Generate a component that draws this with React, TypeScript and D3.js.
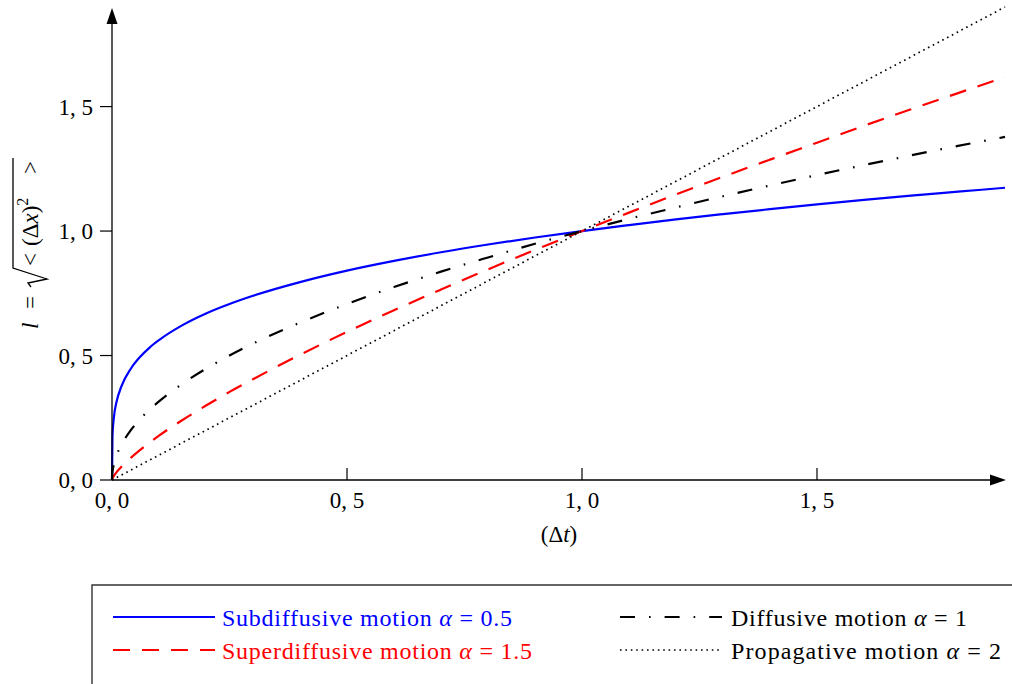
import React from "react";
import * as d3 from "d3";

const tValues = [0, 0.001, 0.004, 0.01, 0.02, 0.04, 0.06, 0.08, 0.1, 0.15, 0.2, 0.25, 0.3, 0.4, 0.5, 0.6, 0.7, 0.8, 0.9, 1.0, 1.1, 1.2, 1.3, 1.4, 1.5, 1.6, 1.7, 1.8, 1.9];
const subdiffusive = [0, 0.178, 0.251, 0.316, 0.376, 0.447, 0.495, 0.532, 0.562, 0.622, 0.669, 0.707, 0.74, 0.795, 0.841, 0.88, 0.915, 0.946, 0.974, 1.0, 1.024, 1.047, 1.068, 1.088, 1.107, 1.125, 1.142, 1.158, 1.174];
const diffusive = [0, 0.032, 0.063, 0.1, 0.141, 0.2, 0.245, 0.283, 0.316, 0.387, 0.447, 0.5, 0.548, 0.632, 0.707, 0.775, 0.837, 0.894, 0.949, 1.0, 1.049, 1.095, 1.14, 1.183, 1.225, 1.265, 1.304, 1.342, 1.378];
const superdiffusive = [0, 0.006, 0.016, 0.032, 0.053, 0.089, 0.121, 0.15, 0.178, 0.241, 0.299, 0.354, 0.405, 0.503, 0.595, 0.682, 0.765, 0.846, 0.924, 1.0, 1.074, 1.147, 1.218, 1.287, 1.355, 1.423, 1.489, 1.554, 1.618];
const propagative = [0, 0.001, 0.004, 0.01, 0.02, 0.04, 0.06, 0.08, 0.1, 0.15, 0.2, 0.25, 0.3, 0.4, 0.5, 0.6, 0.7, 0.8, 0.9, 1.0, 1.1, 1.2, 1.3, 1.4, 1.5, 1.6, 1.7, 1.8, 1.9];

const xTicks = [0, 0.5, 1.0, 1.5];
const yTicks = [0, 0.5, 1.0, 1.5];
const xTickLabels = ["0, 0", "0, 5", "1, 0", "1, 5"];
const yTickLabels = ["0, 0", "0, 5", "1, 0", "1, 5"];

const seriesNames = ["Subdiffusive motion", "Superdiffusive motion", "Diffusive motion", "Propagative motion"];
const seriesAlpha = ["0.5", "1.5", "1", "2"];

const FONT = "'Liberation Serif', 'Times New Roman', serif";

export default function App() {
  const W = 1012;
  const H = 684;
  const x = d3.scaleLinear().domain([0, 1.9]).range([112, 1005]);
  const y = d3.scaleLinear().domain([0, 1.9]).range([480, 7]);

  const series = [
    { name: seriesNames[0], alpha: seriesAlpha[0], values: subdiffusive, color: "#0000ff", dash: "none", width: 2.2, col: 0, row: 0, textWidth: 290 },
    { name: seriesNames[1], alpha: seriesAlpha[1], values: superdiffusive, color: "#ff0000", dash: "17,12", width: 2.2, col: 0, row: 1, textWidth: 310 },
    { name: seriesNames[2], alpha: seriesAlpha[2], values: diffusive, color: "#000000", dash: "15,14,1.6,14", width: 2.2, col: 1, row: 0, textWidth: 236 },
    { name: seriesNames[3], alpha: seriesAlpha[3], values: propagative, color: "#000000", dash: "1.6,3.8", width: 1.7, col: 1, row: 1, textWidth: 270 },
  ];

  const line = (vals: number[]) =>
    d3
      .line<number>()
      .x((_, i) => x(tValues[i]))
      .y((d) => y(d))
      .curve(d3.curveMonotoneX)(vals) || "";

  const x0 = x(0);
  const y0 = y(0);
  const xEnd = 1006;
  const yTop = 8;

  const legendCols = [
    { lx: 113, tx: 222 },
    { lx: 620, tx: 731 },
  ];
  const legendRows = [617, 650];

  return (
    <svg
      width={W}
      height={H}
      style={{ position: "absolute", left: 0, top: 0, background: "#fff", fontFamily: FONT }}
    >
      <rect x={0} y={0} width={W} height={H} fill="#fff" />

      {series.map((s, i) => (
        <path
          key={i}
          d={line(s.values)}
          fill="none"
          stroke={s.color}
          strokeWidth={s.width}
          strokeDasharray={s.dash}
          strokeLinecap="butt"
        />
      ))}

      <line x1={x0} y1={y0} x2={xEnd - 14} y2={y0} stroke="#000" strokeWidth={1.3} />
      <path d={`M${xEnd},${y0} L${xEnd - 16},${y0 - 5.5} L${xEnd - 16},${y0 + 5.5} Z`} fill="#000" />
      <line x1={x0} y1={y0} x2={x0} y2={yTop + 14} stroke="#000" strokeWidth={1.3} />
      <path d={`M${x0},${yTop} L${x0 - 5.5},${yTop + 16} L${x0 + 5.5},${yTop + 16} Z`} fill="#000" />

      {xTicks.map((t, i) => (
        <g key={i}>
          <line x1={x(t)} x2={x(t)} y1={y0} y2={y0 - 12} stroke="#000" strokeWidth={1.2} />
          <text x={x(t)} y={508} textAnchor="middle" fontSize={23} fill="#000">
            {xTickLabels[i]}
          </text>
        </g>
      ))}

      {yTicks.map((t, i) => (
        <g key={i}>
          <line x1={x0 - 12} x2={x0} y1={y(t)} y2={y(t)} stroke="#000" strokeWidth={1.2} />
          <text x={93} y={y(t) + 8} textAnchor="end" fontSize={23} fill="#000">
            {yTickLabels[i]}
          </text>
        </g>
      ))}

      <text x={559} y={542} textAnchor="middle" fontSize={23} fill="#000">
        (Δ<tspan fontStyle="italic">t</tspan>)
      </text>

      <g transform="translate(38,330) rotate(-90)" fill="#000">
        <text x={1} y={0} fontSize={23} fontStyle="italic">l</text>
        <text x={21} y={0} fontSize={23}>=</text>
        <path d="M43,-7 L47,-10 L51,9 L62,-25 L172,-25" fill="none" stroke="#000" strokeWidth={1.3} strokeLinejoin="miter" />
        <text x={64} y={0} fontSize={23}>&lt;</text>
        <text x={84} y={0} fontSize={23}>
          (Δ<tspan fontStyle="italic">x</tspan>)
          <tspan fontSize={16} dy={-10}>2</tspan>
        </text>
        <text x={156} y={0} fontSize={23}>&gt;</text>
      </g>

      <path d={`M92,${H + 2} L92,585 L${W + 2},585`} fill="none" stroke="#333" strokeWidth={1.4} />

      {series.map((s, i) => {
        const col = legendCols[s.col];
        const ly = legendRows[s.row];
        return (
          <g key={i}>
            <line
              x1={col.lx}
              x2={col.lx + 102}
              y1={ly}
              y2={ly}
              stroke={s.color}
              strokeWidth={s.width}
              strokeDasharray={s.dash}
            />
            <text
              x={col.tx}
              y={ly + 9}
              fontSize={24}
              fill={s.color}
              textLength={s.textWidth}
              lengthAdjust="spacing"
            >
              {s.name} <tspan fontStyle="italic">α</tspan> = {s.alpha}
            </text>
          </g>
        );
      })}
    </svg>
  );
}
